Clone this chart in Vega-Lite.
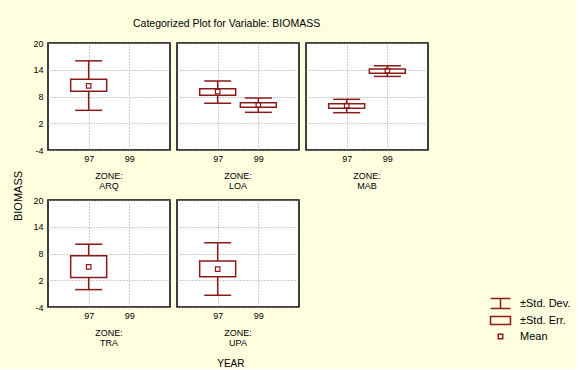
{
  "$schema": "https://vega.github.io/schema/vega-lite/v6.json",
  "background": "#FFFFE0",
  "padding": {"left": 12, "top": 18, "right": 5, "bottom": 0},
  "config": {
    "font": "Liberation Sans",
    "view": {"stroke": "#000000", "strokeWidth": 1.5, "fill": "white"},
    "axis": {"labelFontSize": 9, "labelColor": "#000000", "gridColor": "#9a9a9a", "gridDash": [1, 2], "gridWidth": 1, "domain": false, "ticks": false, "labelPadding": 4}
  },
  "title": {"text": "Categorized Plot for Variable: BIOMASS", "fontSize": 10.5, "fontWeight": "normal", "color": "#000000", "anchor": "start", "dx": 120, "offset": 10},
  "vconcat": [
    {
      "title": {"text": "YEAR", "orient": "bottom", "fontSize": 10, "fontWeight": "normal", "color": "#000000", "anchor": "middle", "offset": 10, "dx": 10},
      "data": {
        "values": [
          {"zone": "ARQ", "year": 97, "sd_lo": 4.9, "sd_hi": 16.0, "se_lo": 9.16, "se_hi": 11.85, "mean": 10.4},
          {"zone": "LOA", "year": 97, "sd_lo": 6.5, "sd_hi": 11.5, "se_lo": 8.27, "se_hi": 9.76, "mean": 9.08},
          {"zone": "LOA", "year": 99, "sd_lo": 4.45, "sd_hi": 7.66, "se_lo": 5.57, "se_hi": 6.6, "mean": 6.09},
          {"zone": "MAB", "year": 97, "sd_lo": 4.37, "sd_hi": 7.37, "se_lo": 5.35, "se_hi": 6.39, "mean": 5.94},
          {"zone": "MAB", "year": 99, "sd_lo": 12.5, "sd_hi": 14.9, "se_lo": 13.2, "se_hi": 14.17, "mean": 13.8},
          {"zone": "TRA", "year": 97, "sd_lo": -0.1, "sd_hi": 10.08, "se_lo": 2.6, "se_hi": 7.5, "mean": 5.0},
          {"zone": "UPA", "year": 97, "sd_lo": -1.35, "sd_hi": 10.4, "se_lo": 2.8, "se_hi": 6.3, "mean": 4.5}
        ]
      },
      "facet": {
        "field": "zone",
        "type": "nominal",
        "header": {
          "title": "BIOMASS",
          "titleOrient": "left",
          "titleAngle": 270,
          "titleFontSize": 11,
          "titleFontWeight": "normal",
          "titleColor": "#000000",
          "titlePadding": -3,
          "labelOrient": "bottom",
          "labelExpr": "['ZONE:', datum.value]",
          "labelFontSize": 9,
          "labelLineHeight": 10,
          "labelPadding": 9,
          "labelColor": "#000000"
        }
      },
      "columns": 3,
      "spacing": {"column": 5, "row": 7},
      "resolve": {"axis": {"x": "independent"}},
      "spec": {
        "width": 122,
        "height": 107,
        "encoding": {
          "x": {
            "field": "year",
            "type": "ordinal",
            "scale": {"type": "point", "domain": [97, 99], "padding": 1},
            "axis": {"title": null, "labelAngle": 0, "grid": true}
          }
        },
        "layer": [
          {
            "mark": {"type": "rule", "color": "#8b1a1a", "strokeWidth": 1.5},
            "encoding": {
              "y": {"field": "sd_lo", "type": "quantitative", "scale": {"domain": [-4, 20], "nice": false, "zero": false}, "axis": {"title": null, "values": [-4, 2, 8, 14, 20], "grid": true, "labelExpr": "'' + datum.value"}},
              "y2": {"field": "sd_hi"}
            }
          },
          {
            "mark": {"type": "tick", "color": "#8b1a1a", "size": 27, "thickness": 1.5, "opacity": 1},
            "encoding": {"y": {"field": "sd_lo", "type": "quantitative", "axis": {"title": null, "values": [-4, 2, 8, 14, 20], "grid": true, "labelExpr": "'' + datum.value"}}}
          },
          {
            "mark": {"type": "tick", "color": "#8b1a1a", "size": 27, "thickness": 1.5, "opacity": 1},
            "encoding": {"y": {"field": "sd_hi", "type": "quantitative", "axis": {"title": null, "values": [-4, 2, 8, 14, 20], "grid": true, "labelExpr": "'' + datum.value"}}}
          },
          {
            "mark": {"type": "bar", "fill": "#ffffff", "stroke": "#8b1a1a", "strokeWidth": 1.5, "size": 36},
            "encoding": {"y": {"field": "se_lo", "type": "quantitative", "axis": {"title": null, "values": [-4, 2, 8, 14, 20], "grid": true, "labelExpr": "'' + datum.value"}}, "y2": {"field": "se_hi"}}
          },
          {
            "mark": {"type": "point", "filled": false, "color": "#8b1a1a", "size": 225, "strokeWidth": 1.2, "opacity": 1},
            "encoding": {
              "y": {"field": "mean", "type": "quantitative", "axis": {"title": null, "values": [-4, 2, 8, 14, 20], "grid": true, "labelExpr": "'' + datum.value"}},
              "shape": {
                "datum": "Mean",
                "scale": {
                  "domain": ["±Std. Dev.", "±Std. Err.", "Mean"],
                  "range": [
                    "M-1.33,-0.67L1.33,-0.67M0,-0.67L0,0.67M-1.33,0.67L1.33,0.67",
                    "M-1.33,-0.53L1.33,-0.53L1.33,0.53L-1.33,0.53Z",
                    "M-0.3,-0.3L0.3,-0.3L0.3,0.3L-0.3,0.3Z"
                  ]
                },
                "legend": {
                  "title": null,
                  "orient": "none",
                  "legendX": 444,
                  "legendY": 252,
                  "labelFontSize": 11,
                  "labelColor": "#000000",
                  "labelOffset": 11,
                  "rowPadding": 0,
                  "symbolSize": 225,
                  "symbolStrokeWidth": 1.5,
                  "symbolFillColor": "#ffffff",
                  "symbolStrokeColor": "#8b1a1a"
                }
              }
            }
          }
        ]
      }
    }
  ]
}
